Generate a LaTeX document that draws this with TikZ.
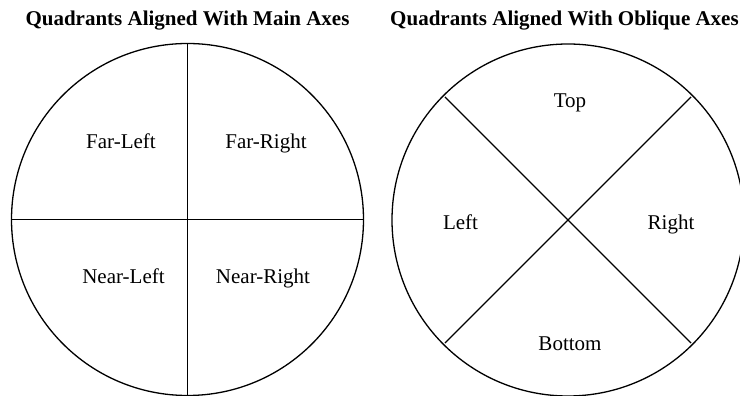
\documentclass[tikz,border=0pt]{standalone}
\usepackage{fontspec}
\setmainfont{Liberation Serif}
\usetikzlibrary{calc}
\tikzset{
    lbl/.style={anchor=base, inner sep=0pt, font=\fontsize{21}{25}\selectfont},
    ttl/.style={lbl, font=\fontsize{21}{25}\selectfont\bfseries}
}
\begin{document}
\begin{tikzpicture}[x=1pt, y=1pt, line width=1.3pt]
    \useasboundingbox (0,0) rectangle (740,396);

    % Titles
    \node[ttl] (ttlmain) at (187.5, 370) {Quadrants Aligned With Main Axes};
    \node[ttl] (ttlobl) at (564.5, 370) {Quadrants Aligned With Oblique Axes};

    % Main axes circle
    \coordinate (cm) at (187.5, 176.5);
    \draw (cm) circle (176);
    \coordinate (mtop) at ($(cm)+(90:176)$);
    \coordinate (mbot) at ($(cm)+(270:176)$);
    \coordinate (mleft) at ($(cm)+(180:176)$);
    \coordinate (mright) at ($(cm)+(0:176)$);
    \draw (mtop) -- (mbot);
    \draw (mleft) -- (mright);
    \node[lbl] (farleft) at (121, 247.7) {Far-Left};
    \node[lbl] (farright) at (266, 247.7) {Far-Right};
    \node[lbl] (nearleft) at (123.5, 112.7) {Near-Left};
    \node[lbl] (nearright) at (263, 112.7) {Near-Right};

    % Oblique axes circle
    \coordinate (co) at (568, 176);
    \draw (co) circle (176);
    \coordinate (oul) at ($(co)+(135:174)$);
    \coordinate (olr) at ($(co)+(-45:174)$);
    \coordinate (our) at ($(co)+(45:174)$);
    \coordinate (oll) at ($(co)+(225:174)$);
    \draw (oul) -- (olr);
    \draw (our) -- (oll);
    \node[lbl] (top) at (570, 288.3) {Top};
    \node[lbl] (left) at (460.5, 166.7) {Left};
    \node[lbl] (right) at (671, 166.7) {Right};
    \node[lbl] (bottom) at (570, 45) {Bottom};
\end{tikzpicture}
\end{document}
